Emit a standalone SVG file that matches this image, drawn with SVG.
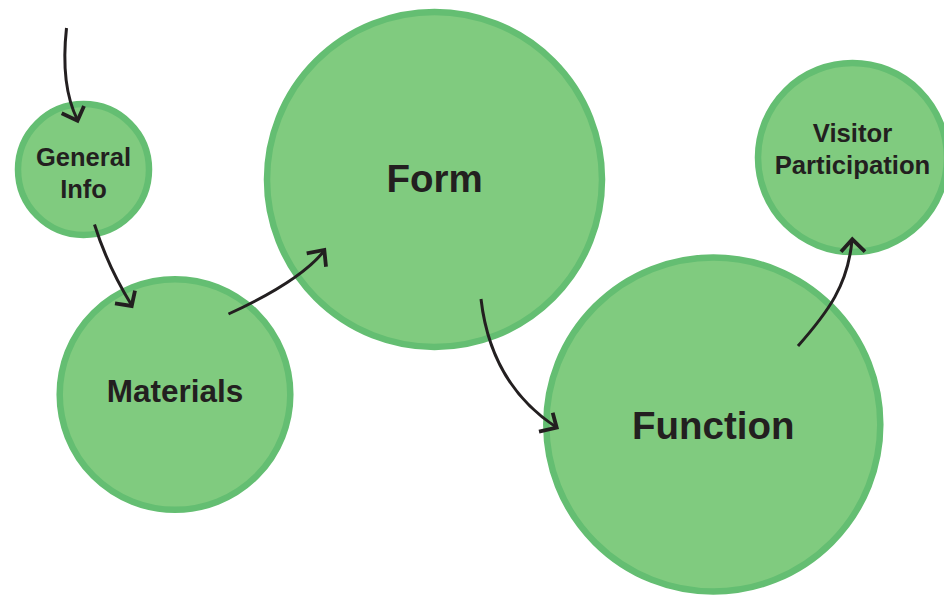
<svg xmlns="http://www.w3.org/2000/svg" width="944" height="595" viewBox="0 0 944 595">
<style>
.node{fill:#80CB7F;stroke:#64BE72;stroke-width:6.5}
.lbl{font-family:"Liberation Sans",Arial,sans-serif;font-weight:bold;fill:#231F20;text-anchor:middle}
.line{fill:none;stroke:#231F20;stroke-width:3}
.head{fill:none;stroke:#231F20;stroke-width:3.8}
</style>
<rect width="944" height="595" fill="#ffffff"/>
<g id="node-general-info">
<circle class="node" cx="83.5" cy="169.5" r="65.5"/>
<text class="lbl" font-size="25.5"><tspan x="83.5" y="165.7">General</tspan><tspan x="83.5" y="197.7">Info</tspan></text>
</g>
<g id="node-materials">
<circle class="node" cx="175" cy="394.5" r="115.3"/>
<text class="lbl" font-size="31.5" x="175" y="401.7">Materials</text>
</g>
<g id="node-form">
<circle class="node" cx="434.5" cy="179.5" r="167.5"/>
<text class="lbl" font-size="38.5" x="434.5" y="192.3">Form</text>
</g>
<g id="node-function">
<circle class="node" cx="713.3" cy="424.5" r="167"/>
<text class="lbl" font-size="38.5" x="713.3" y="439">Function</text>
</g>
<g id="node-visitor-participation">
<circle class="node" cx="852.5" cy="157.5" r="94.5"/>
<text class="lbl" font-size="25.7"><tspan x="852.5" y="142.3">Visitor</tspan><tspan x="852.5" y="174.3">Participation</tspan></text>
</g>
<g id="connectors">
<path class="line" d="M66.5,28 C63,60 65,95 77.5,120"/>
<polyline class="head" points="61.7,113.3 77.5,120.7 84,106"/>
<path class="line" d="M94.5,224.5 C105,258 118,283 131.5,305"/>
<polyline class="head" points="115,303.3 131.7,306 135,290.7"/>
<path class="line" d="M228.5,314 C270,295 305,275 324,251"/>
<polyline class="head" points="306.7,253.3 324.3,250 326,266.7"/>
<path class="line" d="M481,299 C488,360 515,400 556,427"/>
<polyline class="head" points="539,431.7 556.7,427.7 552.7,412.7"/>
<path class="line" d="M798,346 C828,312 848,285 852,240"/>
<polyline class="head" points="841,251.7 852.3,239.3 865,251.7"/>
</g>
</svg>
